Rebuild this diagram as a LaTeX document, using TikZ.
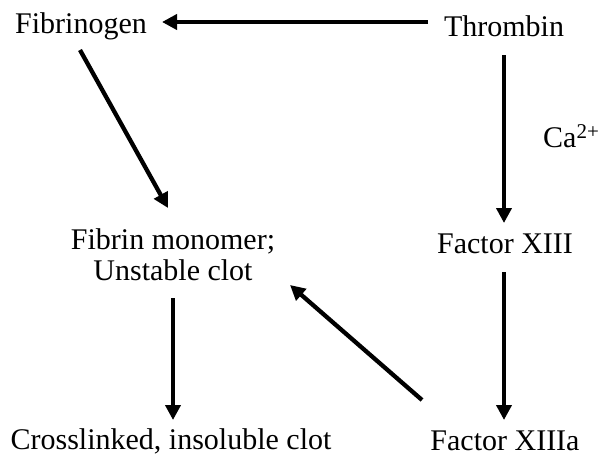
\documentclass[tikz,border=0pt]{standalone}
\usepackage{fontspec}
\setmainfont{Liberation Serif}
\usetikzlibrary{arrows.meta,calc}
\begin{document}
\begin{tikzpicture}[x=1pt,y=-1pt,
  lbl/.style={inner sep=0pt,font=\fontsize{30}{31}\selectfont,align=center},
  arr/.style={line width=4.3pt,-{Triangle[length=15pt,width=15pt]}}]
\useasboundingbox (0,0) rectangle (602,464);
\node[lbl] (fibg) at (81,26) {Fibrinogen};
\node[lbl] (thr) at (504,26) {Thrombin};
\node[lbl,anchor=west] (ca) at (543,136) {Ca\textsuperscript{2+}};
\node[lbl] (fm) at (173,255) {Fibrin monomer;\\Unstable clot};
\node[lbl] (f13) at (505,244) {Factor XIII};
\node[lbl] (cl) at (171,441) {Crosslinked, insoluble clot};
\node[lbl] (f13a) at (505,441) {Factor XIIIa};
\draw[arr] ($(thr)+(-76,-4)$) -- ($(fibg)+(81,-4)$);
\draw[arr] ($(thr)+(0,29)$) -- ($(f13)+(-1,-21)$);
\draw[arr] ($(f13)+(-1,28)$) -- ($(f13a)+(-1,-21)$);
\draw[arr] ($(fibg)+(-1,24)$) -- ($(fm)+(-5,-47)$);
\draw[arr] ($(fm)+(0,43)$) -- ($(cl)+(2,-21)$);
\draw[arr] ($(f13a)+(-83,-41)$) -- ($(fm)+(117,30)$);
\end{tikzpicture}
\end{document}
